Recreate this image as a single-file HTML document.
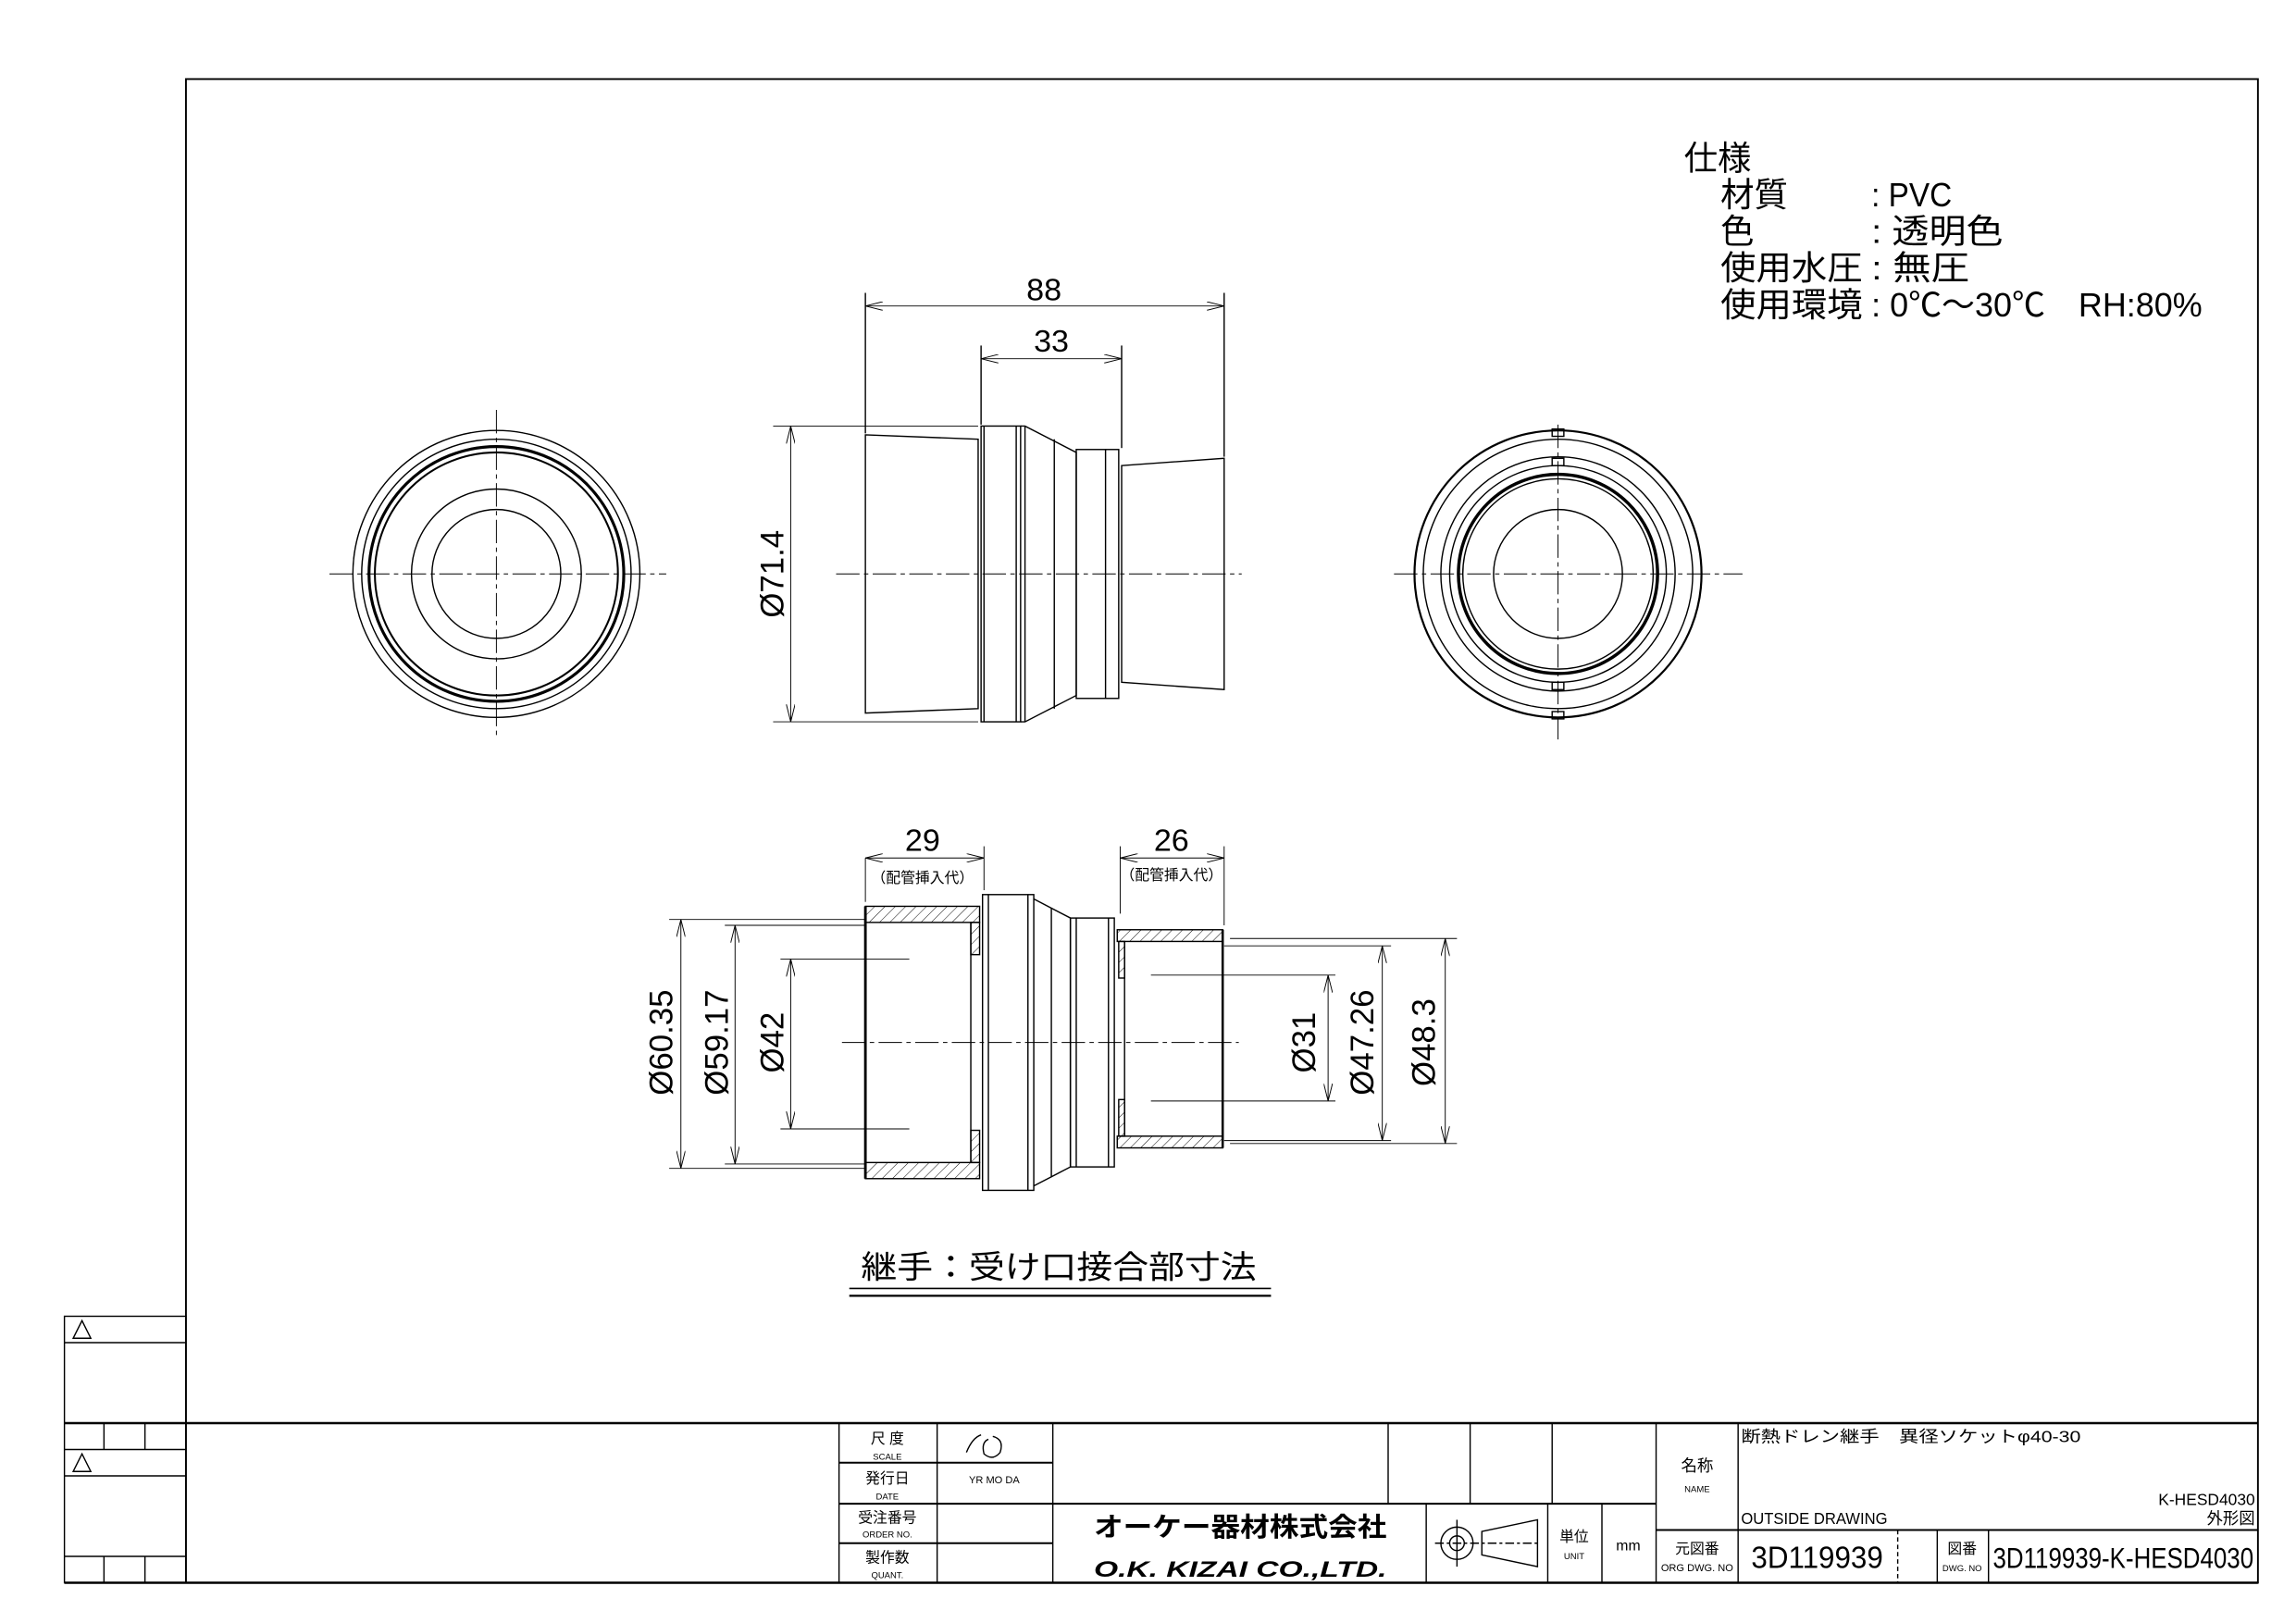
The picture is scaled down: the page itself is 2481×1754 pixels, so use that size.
<!DOCTYPE html>
<html><head><meta charset="utf-8"><style>
html,body{margin:0;padding:0;background:#fff;}
svg{display:block;}
text{font-family:"Liberation Sans","Noto Sans CJK JP",sans-serif;fill:#000;}
</style></head><body>
<svg width="2481" height="1754" viewBox="0 0 1568 1108.5" preserveAspectRatio="none" xmlns="http://www.w3.org/2000/svg">
<defs>
<pattern id="h" width="5" height="5" patternUnits="userSpaceOnUse" patternTransform="rotate(45)">
<line x1="0" y1="0" x2="0" y2="5" stroke="#000" stroke-width="0.6"/>
</pattern>
<marker id="a" viewBox="0 0 12 6" refX="12" refY="3" markerWidth="12" markerHeight="6" orient="auto-start-reverse" markerUnits="userSpaceOnUse">
<path d="M0,0 L12,3 L0,6" fill="none" stroke="#000" stroke-width="0.6"/>
</marker>
</defs>
<g fill="none" stroke="#000" stroke-width="0.9">
<rect x="127" y="54" width="1415" height="1027" stroke-width="1.2"/>
<rect x="44" y="899" width="83" height="182"/>
<line x1="44" y1="917" x2="127" y2="917"/>
<line x1="44" y1="972" x2="1542" y2="972" stroke-width="1.6"/>
<line x1="44" y1="990" x2="127" y2="990"/>
<line x1="44" y1="1008" x2="127" y2="1008"/>
<line x1="44" y1="1063" x2="127" y2="1063"/>
<line x1="71" y1="972" x2="71" y2="990"/><line x1="99" y1="972" x2="99" y2="990"/>
<line x1="71" y1="1063" x2="71" y2="1081"/><line x1="99" y1="1063" x2="99" y2="1081"/>
<line x1="44" y1="1081" x2="1542" y2="1081" stroke-width="1.6"/>
<path d="M50,914 L56,902 L62,914 Z"/><path d="M50,1005 L56,993 L62,1005 Z"/>
<line x1="573" y1="972" x2="573" y2="1081"/>
<line x1="640" y1="972" x2="640" y2="1081"/>
<line x1="719" y1="972" x2="719" y2="1081"/>
<line x1="948" y1="972" x2="948" y2="1027"/>
<line x1="1004" y1="972" x2="1004" y2="1027"/>
<line x1="1060" y1="972" x2="1060" y2="1027"/>
<line x1="1131" y1="972" x2="1131" y2="1081"/>
<line x1="573" y1="999" x2="719" y2="999" stroke-width="1.3"/>
<line x1="573" y1="1027" x2="1131" y2="1027" stroke-width="1.3"/>
<line x1="573" y1="1054" x2="719" y2="1054" stroke-width="1.3"/>
<line x1="974" y1="1027" x2="974" y2="1081"/>
<line x1="1057" y1="1027" x2="1057" y2="1081"/>
<line x1="1094" y1="1027" x2="1094" y2="1081"/>
<line x1="1187" y1="972" x2="1187" y2="1081"/>
<line x1="1131" y1="1045" x2="1542" y2="1045" stroke-width="1.3"/>
<line x1="1296" y1="1045" x2="1296" y2="1081" stroke-dasharray="3,2"/>
<line x1="1323" y1="1045" x2="1323" y2="1081"/>
<line x1="1358" y1="1045" x2="1358" y2="1081"/>
<path d="M660,992 Q664,982 670,980 M675,983 Q670,985 672,993 Q678,998 683,992 Q686,983 678,981"/>
<circle cx="995" cy="1054" r="11"/><circle cx="995" cy="1054" r="5"/>
<line x1="980" y1="1054" x2="1052" y2="1054" stroke-dasharray="6,2,2,2"/>
<line x1="995" y1="1038" x2="995" y2="1070"/>
<path d="M1012,1046 L1050,1038 L1050,1070 L1012,1062 Z"/>
</g>
<g text-anchor="middle">
<text x="606" y="986" font-size="10">尺 度</text><text x="606" y="997" font-size="6">SCALE</text>
<text x="679" y="1013" font-size="7">YR  MO  DA</text>
<text x="606" y="1013" font-size="10">発行日</text><text x="606" y="1024" font-size="6">DATE</text>
<text x="606" y="1040" font-size="10">受注番号</text><text x="606" y="1050" font-size="6">ORDER NO.</text>
<text x="606" y="1067" font-size="10">製作数</text><text x="606" y="1078" font-size="6">QUANT.</text>
<text x="847" y="1049" font-size="18" font-weight="bold" textLength="200" lengthAdjust="spacingAndGlyphs">オーケー器材株式会社</text>
<text x="847" y="1077" font-size="15" font-weight="bold" font-style="italic" textLength="200" lengthAdjust="spacingAndGlyphs">O.K. KIZAI CO.,LTD.</text>
<text x="1075" y="1053" font-size="10">単位</text><text x="1075" y="1065" font-size="6">UNIT</text>
<text x="1112" y="1059" font-size="10">mm</text>
<text x="1159" y="1005" font-size="11">名称</text><text x="1159" y="1019" font-size="6">NAME</text>
<text x="1159" y="1061" font-size="10">元図番</text><text x="1159" y="1073" font-size="7">ORG DWG. NO</text>
<text x="1340" y="1061" font-size="10">図番</text><text x="1340" y="1073" font-size="6">DWG. NO</text>
<text x="1241" y="1071" font-size="21" textLength="90" lengthAdjust="spacingAndGlyphs">3D119939</text>
<text x="1450" y="1071" font-size="20" textLength="178" lengthAdjust="spacingAndGlyphs">3D119939-K-HESD4030</text>
</g>
<text x="1189" y="985" font-size="11" textLength="232" lengthAdjust="spacingAndGlyphs">断熱ドレン継手　異径ソケットφ40-30</text>
<text x="1189" y="1041" font-size="11" textLength="100" lengthAdjust="spacingAndGlyphs">OUTSIDE DRAWING</text>
<text x="1540" y="1028" font-size="11" text-anchor="end">K-HESD4030</text>
<text x="1540" y="1041" font-size="11" text-anchor="end">外形図</text>

<g font-size="23">
<text x="1150" y="116" textLength="46" lengthAdjust="spacingAndGlyphs">仕様</text>
<text x="1175" y="141" textLength="46" lengthAdjust="spacingAndGlyphs">材質</text>
<text x="1278" y="141" textLength="55" lengthAdjust="spacingAndGlyphs">: PVC</text>
<text x="1175" y="166">色</text>
<text x="1278" y="166" textLength="90" lengthAdjust="spacingAndGlyphs">: 透明色</text>
<text x="1175" y="191" textLength="97" lengthAdjust="spacingAndGlyphs">使用水圧</text>
<text x="1278" y="191" textLength="67" lengthAdjust="spacingAndGlyphs">: 無圧</text>
<text x="1175" y="216" textLength="97" lengthAdjust="spacingAndGlyphs">使用環境</text>
<text x="1278" y="216" textLength="226" lengthAdjust="spacingAndGlyphs">: 0℃～30℃　RH:80%</text>
</g>

<g fill="none" stroke="#000" stroke-width="0.9">
<g stroke-dasharray="16,3,3,3" stroke-width="0.6">
<line x1="225" y1="392" x2="455" y2="392"/><line x1="339" y1="280" x2="339" y2="505"/>
<line x1="952" y1="392" x2="1190" y2="392"/><line x1="1064" y1="290" x2="1064" y2="505"/>
<line x1="571" y1="392" x2="848" y2="392"/>
<line x1="575" y1="712" x2="846" y2="712"/>
</g>
<circle cx="339" cy="392" r="98"/><circle cx="339" cy="392" r="92"/>
<circle cx="339" cy="392" r="87" stroke-width="2"/><circle cx="339" cy="392" r="83" stroke-width="1.3"/>
<circle cx="339" cy="392" r="58"/><circle cx="339" cy="392" r="44"/>
<circle cx="1064" cy="392" r="98" stroke-width="1.4"/><circle cx="1064" cy="392" r="92"/>
<circle cx="1064" cy="392" r="80"/><circle cx="1064" cy="392" r="74"/>
<circle cx="1064" cy="392" r="68" stroke-width="2.2"/><circle cx="1064" cy="392" r="65"/>
<circle cx="1064" cy="392" r="44"/>
<rect x="1060" y="293" width="8" height="5"/><rect x="1060" y="486" width="8" height="5"/>
<rect x="1060" y="313" width="8" height="5"/><rect x="1060" y="466" width="8" height="5"/>

<path d="M591,297 L668,300 L668,484 L591,487 Z"/>
<rect x="670" y="291" width="27" height="202"/>
<line x1="672" y1="291" x2="672" y2="493"/><line x1="694" y1="291" x2="694" y2="493"/>
<path d="M697,291 L700,291 L735,309 L735,475 L700,493 L697,493"/>
<line x1="700" y1="291" x2="700" y2="493"/><line x1="720" y1="300" x2="720" y2="484"/>
<rect x="735" y="307" width="29" height="170"/>
<line x1="755" y1="307" x2="755" y2="477"/>
<path d="M766,318 L836,313 L836,471 L766,466 Z"/>
<line x1="591" y1="200" x2="591" y2="296"/><line x1="836" y1="200" x2="836" y2="312"/>
<line x1="591" y1="209" x2="836" y2="209" stroke-width="0.6" marker-start="url(#a)" marker-end="url(#a)"/>
<line x1="670" y1="236" x2="670" y2="290"/><line x1="766" y1="236" x2="766" y2="306"/>
<line x1="670" y1="245" x2="766" y2="245" stroke-width="0.6" marker-start="url(#a)" marker-end="url(#a)"/>
<line x1="528" y1="291" x2="668" y2="291" stroke-width="0.6"/><line x1="528" y1="493" x2="668" y2="493" stroke-width="0.6"/>
<line x1="540" y1="291" x2="540" y2="493" stroke-width="0.6" marker-start="url(#a)" marker-end="url(#a)"/>

<rect x="591" y="619" width="78" height="11" fill="url(#h)"/>
<rect x="591" y="794" width="78" height="11" fill="url(#h)"/>
<line x1="591" y1="619" x2="591" y2="805" stroke-width="1.8"/>
<rect x="663" y="630" width="6" height="22" fill="url(#h)"/>
<rect x="663" y="772" width="6" height="22" fill="url(#h)"/>
<line x1="663" y1="630" x2="663" y2="794"/>
<rect x="671" y="611" width="35" height="202"/>
<line x1="675" y1="611" x2="675" y2="813"/><line x1="702" y1="611" x2="702" y2="813"/>
<path d="M706,614 L731,627 L731,797 L706,810"/>
<line x1="718" y1="620" x2="718" y2="804"/>
<rect x="731" y="627" width="30" height="170"/><line x1="735" y1="627" x2="735" y2="797"/>
<line x1="757" y1="627" x2="757" y2="797"/>
<rect x="763" y="635" width="72" height="8" fill="url(#h)"/>
<rect x="763" y="776" width="72" height="8" fill="url(#h)"/>
<rect x="764" y="643" width="4" height="25" fill="url(#h)"/>
<rect x="764" y="751" width="4" height="25" fill="url(#h)"/>
<line x1="768" y1="643" x2="768" y2="776"/>
<line x1="835" y1="635" x2="835" y2="784" stroke-width="1.6"/>
<g stroke-width="0.6">
<line x1="591" y1="586" x2="591" y2="616"/><line x1="672" y1="578" x2="672" y2="608"/>
<line x1="591" y1="586" x2="672" y2="586" marker-start="url(#a)" marker-end="url(#a)"/>
<line x1="765" y1="578" x2="765" y2="624"/><line x1="836" y1="578" x2="836" y2="632"/>
<line x1="765" y1="586" x2="836" y2="586" marker-start="url(#a)" marker-end="url(#a)"/>
<line x1="457" y1="628" x2="591" y2="628"/><line x1="457" y1="798" x2="591" y2="798"/>
<line x1="465" y1="628" x2="465" y2="798" marker-start="url(#a)" marker-end="url(#a)"/>
<line x1="495" y1="632" x2="591" y2="632"/><line x1="495" y1="795" x2="591" y2="795"/>
<line x1="502" y1="632" x2="502" y2="795" marker-start="url(#a)" marker-end="url(#a)"/>
<line x1="533" y1="655" x2="621" y2="655"/><line x1="533" y1="771" x2="621" y2="771"/>
<line x1="540" y1="655" x2="540" y2="771" marker-start="url(#a)" marker-end="url(#a)"/>
<line x1="786" y1="666" x2="912" y2="666"/><line x1="786" y1="752" x2="912" y2="752"/>
<line x1="907" y1="666" x2="907" y2="752" marker-start="url(#a)" marker-end="url(#a)"/>
<line x1="836" y1="646" x2="950" y2="646"/><line x1="836" y1="779" x2="950" y2="779"/>
<line x1="944" y1="646" x2="944" y2="779" marker-start="url(#a)" marker-end="url(#a)"/>
<line x1="840" y1="641" x2="995" y2="641"/><line x1="840" y1="781" x2="995" y2="781"/>
<line x1="987" y1="641" x2="987" y2="781" marker-start="url(#a)" marker-end="url(#a)"/>
</g>
<line x1="580" y1="880" x2="868" y2="880" stroke-width="1"/>
<line x1="580" y1="885" x2="868" y2="885" stroke-width="1.4"/>
</g>

<g font-size="21" text-anchor="middle">
<text x="713" y="205" textLength="24" lengthAdjust="spacingAndGlyphs">88</text>
<text x="718" y="240" textLength="24" lengthAdjust="spacingAndGlyphs">33</text>
<text x="630" y="581" textLength="24" lengthAdjust="spacingAndGlyphs">29</text>
<text x="800" y="581" textLength="24" lengthAdjust="spacingAndGlyphs">26</text>
<text transform="translate(535,392) rotate(-90)" font-size="22">Ø71.4</text>
<text transform="translate(459,712) rotate(-90)" font-size="22">Ø60.35</text>
<text transform="translate(497,712) rotate(-90)" font-size="22">Ø59.17</text>
<text transform="translate(535,712) rotate(-90)" font-size="22">Ø42</text>
<text transform="translate(898,712) rotate(-90)" font-size="22">Ø31</text>
<text transform="translate(938,712) rotate(-90)" font-size="22">Ø47.26</text>
<text transform="translate(980,712) rotate(-90)" font-size="22">Ø48.3</text>
</g>
<text x="630" y="603" font-size="10" text-anchor="middle">（配管挿入代）</text>
<text x="800" y="601" font-size="10" text-anchor="middle">（配管挿入代）</text>
<text x="588" y="873" font-size="22" textLength="270" lengthAdjust="spacingAndGlyphs">継手：受け口接合部寸法</text>
</svg>
</body></html>
